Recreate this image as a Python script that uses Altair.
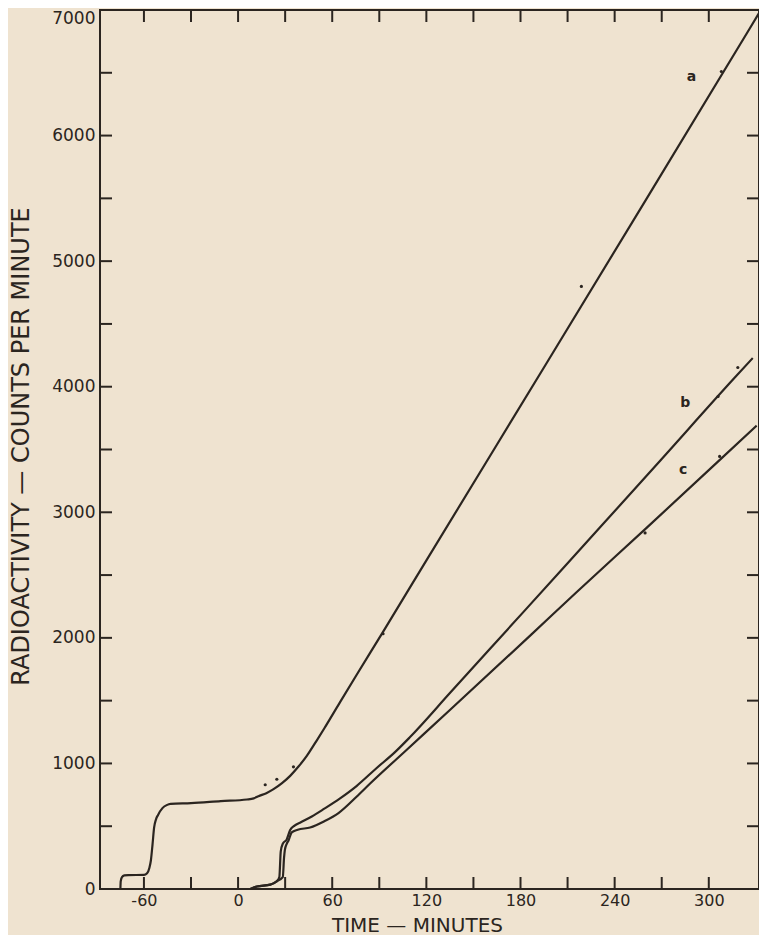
import altair as alt
import pandas as pd

# ---- data ----
a_time = [-75, -74.8, -74, -72.5, -70, -60, -58, -56.5, -55.6, -54.5, -53.5, -52.3, -51, -48.2, -45.5,
          -43, -30, -11, 5.7, 10, 13, 18, 22.6, 28, 33.2, 38.5, 43.8, 50, 55, 65, 75.5, 92, 121, 196, 260, 326, 332]
a_cpm = [0, 60, 95, 108, 111, 112, 125, 170, 225, 358, 490, 555, 590, 644, 668,
         678, 684, 700, 713, 722, 739, 763, 795, 843, 901, 975, 1060, 1180, 1280, 1488, 1704, 2040, 2637, 4175, 5490, 6851, 6975]

b_time = [7.8, 12, 20.5, 24.7, 26.3, 27.2, 28.5, 31, 33.2, 36, 40, 47, 55, 65, 75.5, 88, 100, 109.3,
          135, 160, 209, 231, 270, 316, 328]
b_cpm = [0, 20, 35, 62, 95, 300, 360, 395, 470, 505, 532, 578, 640, 722, 820, 960, 1090, 1206,
         1560, 1905, 2580, 2884, 3425, 4065, 4228]

c_time = [7.8, 12, 20.5, 24.7, 28.5, 29.3, 29.8, 31, 32.1, 34.2, 38, 45.9, 55, 64, 75.5, 84, 107,
          135, 187, 215, 260, 306, 330.5]
c_cpm = [0, 20, 35, 62, 95, 250, 310, 360, 385, 451, 472, 490, 540, 605, 735, 838, 1103,
         1425, 2028, 2355, 2872, 3405, 3690]

# observed points marked on the curves
pt_curve = ["a", "a", "a", "a", "a", "a", "b", "b", "c", "c"]
pt_time = [17.3, 24.7, 35.3, 92.4, 218.8, 308, 305.9, 318.5, 259.4, 306.9]
pt_cpm = [830, 874, 973, 2033, 4799, 6510, 3922, 4153, 2836, 3445]

# curve labels
lab_text = ["a", "b", "c"]
lab_time = [289, 285, 283.6]
lab_cpm = [6466, 3869, 3339]

# axes
x_labels = [-60, 0, 60, 120, 180, 240, 300]
x_ticks = [-60, -30, 0, 30, 60, 90, 120, 150, 180, 210, 240, 270, 300]
y_labels = [0, 1000, 2000, 3000, 4000, 5000, 6000, 7000]
y_ticks = [500, 1000, 1500, 2000, 2500, 3000, 3500, 4000, 4500, 5000, 5500, 6000, 6500]

X_DOMAIN = [-88, 332]
Y_DOMAIN = [0, 7000]

W, H = 659, 879
INK = "#2b2520"
PAPER = "#efe3d0"
FONT = "DejaVu Sans"
TICK = 12

lines = pd.concat([
    pd.DataFrame({"curve": "a", "t": a_time, "v": a_cpm, "o": range(len(a_time))}),
    pd.DataFrame({"curve": "b", "t": b_time, "v": b_cpm, "o": range(len(b_time))}),
    pd.DataFrame({"curve": "c", "t": c_time, "v": c_cpm, "o": range(len(c_time))}),
])
points = pd.DataFrame({"curve": pt_curve, "t": pt_time, "v": pt_cpm})
labels = pd.DataFrame({"text": lab_text, "t": lab_time, "v": lab_cpm})
xt = pd.DataFrame({"t": x_ticks})
yt = pd.DataFrame({"v": y_ticks})

xscale = alt.Scale(domain=X_DOMAIN, nice=False, zero=False)
yscale = alt.Scale(domain=Y_DOMAIN, nice=False)

xaxis = alt.Axis(values=x_labels, labelExpr="'' + datum.value", ticks=False, domain=False, grid=False,
                 labelFont=FONT, labelFontSize=16, labelColor=INK, labelPadding=3,
                 title="TIME — MINUTES", titleFont=FONT, titleFontSize=20, titleFontWeight="normal",
                 titleColor=INK, titleX=317, titleY=46, titleBaseline="bottom", titleAlign="center")
yaxis = alt.Axis(values=y_labels, format="d", ticks=False, domain=False, grid=False,
                 labelFont=FONT, labelFontSize=17, labelColor=INK, labelPadding=5,
                 labelOffset={"condition": {"test": "datum.value >= 7000", "value": 8}, "value": 0},
                 title="RADIOACTIVITY — COUNTS PER MINUTE", titleFont=FONT, titleFontSize=24,
                 titleFontWeight="normal", titleColor=INK, titleX=-79, titleY=436,
                 titleBaseline="middle", titleAlign="center", titleAngle=270)

line_layer = alt.Chart(lines).mark_line(color=INK, strokeWidth=2.2, interpolate="monotone").encode(
    x=alt.X("t:Q", scale=xscale, axis=xaxis),
    y=alt.Y("v:Q", scale=yscale, axis=yaxis),
    detail="curve:N",
    order="o:Q",
)

point_layer = alt.Chart(points).mark_point(filled=True, color=INK, size=10, opacity=1).encode(
    x=alt.X("t:Q", scale=xscale), y=alt.Y("v:Q", scale=yscale)
)

text_layer = alt.Chart(labels).mark_text(font=FONT, fontSize=14, color=INK, fontWeight="bold").encode(
    x=alt.X("t:Q", scale=xscale), y=alt.Y("v:Q", scale=yscale), text="text:N"
)

bottom_ticks = alt.Chart(xt).mark_rule(color=INK, strokeWidth=2).encode(
    x=alt.X("t:Q", scale=xscale), y=alt.value(H), y2=alt.value(H - TICK)
)
top_ticks = alt.Chart(xt).mark_rule(color=INK, strokeWidth=2).encode(
    x=alt.X("t:Q", scale=xscale), y=alt.value(0), y2=alt.value(TICK)
)
left_ticks = alt.Chart(yt).mark_rule(color=INK, strokeWidth=2).encode(
    y=alt.Y("v:Q", scale=yscale), x=alt.value(0), x2=alt.value(TICK)
)
right_ticks = alt.Chart(yt).mark_rule(color=INK, strokeWidth=2).encode(
    y=alt.Y("v:Q", scale=yscale), x=alt.value(W), x2=alt.value(W - TICK)
)

chart = alt.layer(
    line_layer, point_layer, text_layer, bottom_ticks, top_ticks, left_ticks, right_ticks
).properties(
    width=W, height=H,
    padding={"left": 92, "top": 2, "right": 0, "bottom": 46},
    autosize=alt.AutoSizeParams(type="none"),
    background=PAPER,
).configure_view(stroke=INK, strokeWidth=2)

chart.save("out.html", embed_options={"renderer": "svg", "actions": False})
